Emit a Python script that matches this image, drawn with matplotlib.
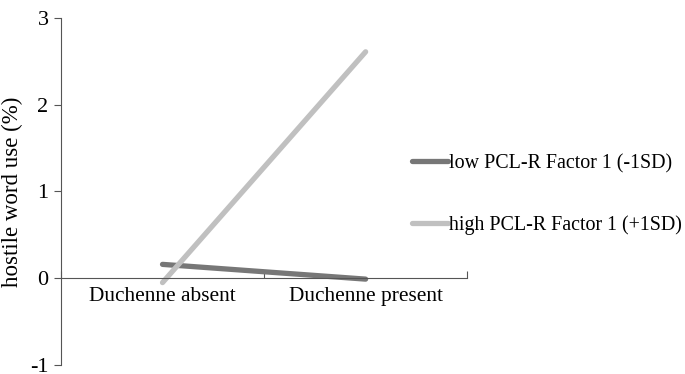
import matplotlib.pyplot as plt

conditions = ["Duchenne absent", "Duchenne present"]
low_f1 = [0.16, -0.01]
high_f1 = [-0.05, 2.61]
series_labels = ["low PCL-R Factor 1 (-1SD)", "high PCL-R Factor 1 (+1SD)"]

plt.rcParams["font.family"] = ["Liberation Serif", "DejaVu Serif"]

fig = plt.figure(figsize=(6.85, 3.74), dpi=100)
ax = fig.add_axes([0.089, 0.024, 0.593, 0.928])

x = [0.5, 1.5]
ax.plot(x, low_f1, color="#777777", lw=3.8, solid_capstyle="round", label=series_labels[0])
ax.plot(x, high_f1, color="#c0c0c0", lw=3.8, solid_capstyle="round", label=series_labels[1])

ax.set_xlim(0, 2)
ax.set_ylim(-1, 3)
ax.set_yticks([-1, 0, 1, 2, 3])
ax.set_yticklabels(["-1", "0", "1", "2", "3"])
ax.set_xticks([0, 1, 2])
ax.set_xticklabels([])
ax.set_xticks(x, minor=True)
ax.set_xticklabels(conditions, minor=True)
ax.tick_params(axis="x", which="minor", length=0, pad=6, labelsize=15.4)
ax.tick_params(axis="x", which="major", direction="in", length=5, color="#555555")
ax.tick_params(axis="y", direction="out", length=5, labelsize=16, color="#555555", pad=4)

for s in ["top", "right"]:
    ax.spines[s].set_visible(False)
ax.spines["bottom"].set_position(("data", 0))
ax.spines["bottom"].set_color("#555555")
ax.spines["left"].set_color("#555555")
ax.set_ylabel("hostile word use (%)", fontsize=16.5, labelpad=5)

fig.legend(loc="center left", bbox_to_anchor=(0.575, 0.48), frameon=False,
           fontsize=14.4, handlelength=1.8, handletextpad=0.05, labelspacing=2.1)

fig.savefig("out.png", dpi=100)
